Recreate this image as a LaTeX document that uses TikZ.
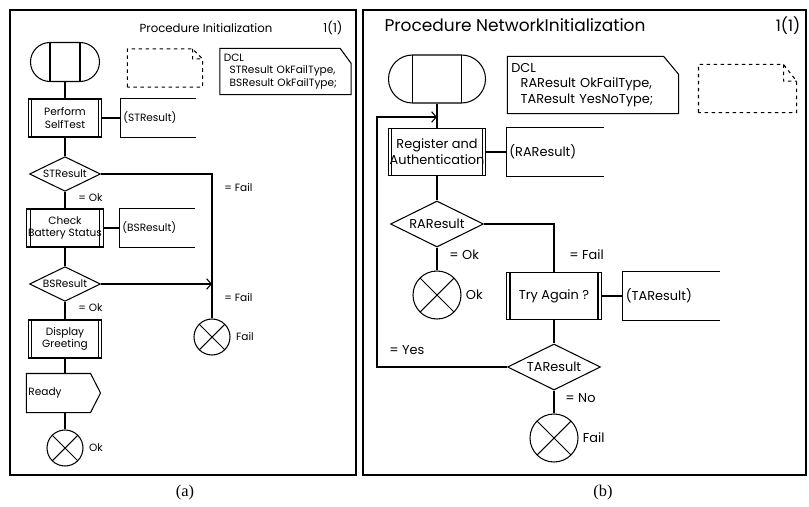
\documentclass[tikz,border=0pt]{standalone}
\usepackage{fontspec}
\setmainfont{Poppins}
\newfontfamily\capfont{Liberation Serif}
\usetikzlibrary{shapes.geometric,positioning,arrows.meta}
\tikzset{
  fa/.style={font=\fontsize{9}{10.5}\selectfont},
  fb/.style={font=\fontsize{11}{13.5}\selectfont},
  panel/.style={draw, line width=1.3pt},
  startsym/.style 2 args={draw, minimum width=#1, minimum height=#2, inner sep=0pt, rounded corners=#2/2,
    path picture={\draw ([xshift=#2/2]path picture bounding box.north west) -- ([xshift=#2/2]path picture bounding box.south west)
      ([xshift=-#2/2]path picture bounding box.north east) -- ([xshift=-#2/2]path picture bounding box.south east);}},
  proc/.style={draw, rectangle, align=center, inner sep=1pt,
    path picture={\draw ([xshift=3pt]path picture bounding box.north west) -- ([xshift=3pt]path picture bounding box.south west)
      ([xshift=-3pt]path picture bounding box.north east) -- ([xshift=-3pt]path picture bounding box.south east);}},
  procA/.style={proc, fa, minimum width=2.2cm, minimum height=1.14cm},
  procB/.style={proc, fb, minimum width=2.85cm, minimum height=1.41cm},
  dec/.style={draw, diamond, aspect=2, inner sep=0pt},
  decA/.style={dec, fa, minimum width=2.13cm, minimum height=1.04cm},
  decB/.style={dec, fb, minimum width=2.79cm, minimum height=1.38cm},
  outbox/.style={rectangle, align=left, inner xsep=2pt},
  outA/.style={outbox, fa, text width=2.08cm, minimum height=1.14cm},
  outB/.style={outbox, fb, text width=2.74cm, minimum height=1.44cm},
  stopsym/.style={draw, circle, inner sep=0pt,
    path picture={\draw (path picture bounding box.north west) -- (path picture bounding box.south east)
      (path picture bounding box.south west) -- (path picture bounding box.north east);}},
  stopA/.style={stopsym, minimum size=1.08cm},
  stopB/.style={stopsym, minimum size=1.44cm},
  dcl/.style={align=left, inner xsep=3pt}
}

\begin{document}
\begin{tikzpicture}[x=0.03cm, y=-0.03cm, line width=0.9pt, >={Straight Barb[length=4pt,width=9pt]}]
    \useasboundingbox (0,0) rectangle (809,507);

    % (a) Initialization
    \draw[panel] (10,10) rectangle (356,475);
    \node[font=\fontsize{10}{12}\selectfont] (titleA) at (206,28) {Procedure Initialization};
    \node[font=\fontsize{10.5}{12}\selectfont] (pageA) at (333,28) {1(1)};
    \node[startsym={2.07cm}{1.17cm}] (startA) at (65,62) {};
    \node[minimum width=2.22cm, minimum height=1.11cm] (cmtA) at (165,68) {};
    \draw[dashed] (cmtA.south west) -- (cmtA.north west) -- ([xshift=-0.3cm]cmtA.north east) -- ([yshift=-0.3cm]cmtA.north east) -- (cmtA.south east) -- cycle
        ([xshift=-0.3cm]cmtA.north east) -- ([xshift=-0.3cm,yshift=-0.3cm]cmtA.north east) -- ([yshift=-0.3cm]cmtA.north east);
    \node[dcl, fa, text width=3.7cm, minimum height=1.35cm] (dclA) at (285.5,71.5) {DCL\\\hspace*{5pt}STResult OkFailType,\\\hspace*{5pt}BSResult OkFailType;};
    \draw (dclA.south west) -- (dclA.north west) -- ([xshift=-0.33cm]dclA.north east) -- ([yshift=-0.45cm]dclA.north east) -- (dclA.south east) -- cycle;

    \node[procA] (p1) at (65,118) {Perform\\SelfTest};
    \node[outA] (o1) at (158,118) {(STResult)};
    \node[decA] (d1) at (65,174) {STResult};
    \node[procA] (p2) at (65,228) {Check\\Battery Status};
    \node[outA] (o2) at (157,228) {(BSResult)};
    \node[decA] (d2) at (65,284) {BSResult};
    \node[procA] (p3) at (65,339) {Display\\Greeting};
    \node[fa, minimum width=1.89cm, minimum height=1.14cm, text width=1.8cm, align=left, inner xsep=1pt] (rdy) at (58.5,393) {Ready};
    \draw (rdy.north west) -- (rdy.north east) -- ([xshift=0.3cm]rdy.east) -- (rdy.south east) -- (rdy.south west) -- cycle;
    \node[stopA] (okA) at (65,448) {};
    \node[fa, right=1pt of okA] (okAt) {Ok};
    \node[stopA] (failA) at (212,337) {};
    \node[fa, right=1pt of failA] (failAt) {Fail};

    \node[fa, anchor=west] (okA1) at (74,198) {= Ok};
    \node[fa, anchor=west] (okA2) at (74,308) {= Ok};
    \node[fa, anchor=west] (failA1) at (220,188) {= Fail};
    \node[fa, anchor=west] (failA2) at (220,298) {= Fail};

    \draw (startA.south) -- (p1.north);
    \draw (p1.east) -- (o1.west);
    \draw (o1.north east) -| (o1.west) |- (o1.south east);
    \draw (p1.south) -- (d1.north);
    \draw (d1.south) -- (p2.north);
    \draw (d1.east) -| (failA.north);
    \draw (p2.east) -- (o2.west);
    \draw (o2.north east) -| (o2.west) |- (o2.south east);
    \draw (p2.south) -- (d2.north);
    \draw[->] (d2.east) -- (d2.east -| failA.north);
    \draw (d2.south) -- (p3.north);
    \draw (p3.south) -- (p3.south |- rdy.north);
    \draw (okA.north |- rdy.south) -- (okA.north);

    % (b) NetworkInitialization
    \draw[panel] (363,10) rectangle (806,475);
    \node[font=\fontsize{14.5}{17}\selectfont] (titleB) at (515,25) {Procedure NetworkInitialization};
    \node[font=\fontsize{13.5}{17}\selectfont] (pageB) at (788,26) {1(1)};
    \node[startsym={2.91cm}{1.44cm}] (startB) at (437,79) {};
    \node[dcl, fb, text width=4.9cm, minimum height=1.68cm] (dclB) at (593,85) {DCL\\\hspace*{8pt}RAResult OkFailType,\\\hspace*{8pt}TAResult YesNoType;};
    \draw (dclB.south west) -- (dclB.north west) -- ([xshift=-0.45cm]dclB.north east) -- ([yshift=-0.54cm]dclB.north east) -- (dclB.south east) -- cycle;
    \node[minimum width=2.91cm, minimum height=1.41cm] (cmtB) at (747.5,88.5) {};
    \draw[dashed] (cmtB.south west) -- (cmtB.north west) -- ([xshift=-0.39cm]cmtB.north east) -- ([yshift=-0.5cm]cmtB.north east) -- (cmtB.south east) -- cycle
        ([xshift=-0.39cm]cmtB.north east) -- ([xshift=-0.39cm,yshift=-0.5cm]cmtB.north east) -- ([yshift=-0.5cm]cmtB.north east);

    \node[procB] (p4) at (437,152) {Register and\\Authentication};
    \node[outB] (o3) at (555,152) {(RAResult)};
    \node[decB] (d3) at (437,224) {RAResult};
    \node[stopB] (okB) at (437,295) {};
    \node[fb, right=0pt of okB] (okBt) {Ok};
    \node[procB] (p5) at (554,296) {Try Again ?};
    \node[outB] (o4) at (671.5,296) {(TAResult)};
    \node[decB] (d4) at (554,367) {TAResult};
    \node[stopB] (failB) at (554,438) {};
    \node[fb, right=0pt of failB] (failBt) {Fail};
    \coordinate (loopc) at (377,117);

    \node[fb, anchor=west] (okB1) at (445,255) {= Ok};
    \node[fb, anchor=west] (failB1) at (565,255) {= Fail};
    \node[fb, anchor=west] (yesB) at (385,350) {= Yes};
    \node[fb, anchor=west] (noB) at (561,398) {= No};

    \draw (startB.south) -- (p4.north);
    \draw[->] (d4.west) -| (loopc) -- (loopc -| startB.south);
    \draw (p4.east) -- (o3.west);
    \draw (o3.north east) -| (o3.west) |- (o3.south east);
    \draw (p4.south) -- (d3.north);
    \draw (d3.south) -- (okB.north);
    \draw (d3.east) -| (p5.north);
    \draw (p5.east) -- (o4.west);
    \draw (o4.north east) -| (o4.west) |- (o4.south east);
    \draw (p5.south) -- (d4.north);
    \draw (d4.south) -- (failB.north);

    \node[font=\capfont\fontsize{14}{16}\selectfont] (capA) at (185,493) {(a)};
    \node[font=\capfont\fontsize{14}{16}\selectfont] (capB) at (603,493) {(b)};
\end{tikzpicture}
\end{document}
